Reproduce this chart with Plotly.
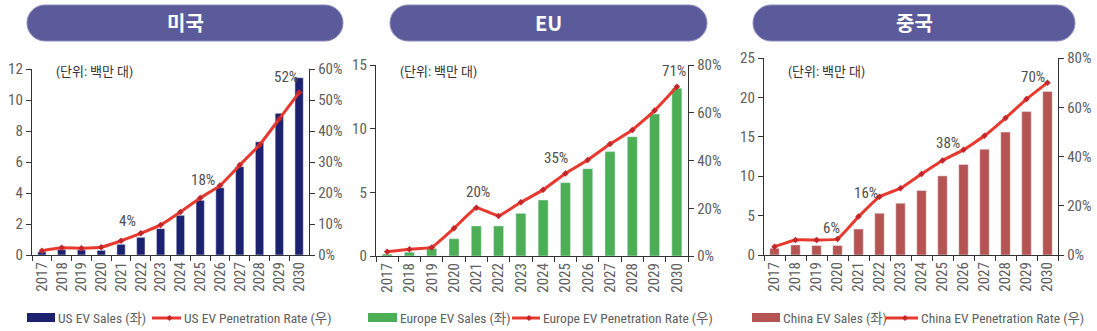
import plotly.graph_objects as go

W, H = 1097, 331

years = ["2017", "2018", "2019", "2020", "2021", "2022", "2023",
         "2024", "2025", "2026", "2027", "2028", "2029", "2030"]

us_sales = [0.2, 0.35, 0.33, 0.3, 0.69, 1.14, 1.7, 2.56, 3.53, 4.34, 5.7, 7.3, 9.14, 11.44]
us_rate = [1.4, 2.3, 2.2, 2.5, 4.6, 7.0, 9.7, 13.9, 18.4, 22.4, 29.0, 35.5, 43.9, 52.4]
eu_sales = [0.15, 0.3, 0.6, 1.36, 2.36, 2.36, 3.35, 4.4, 5.76, 6.86, 8.2, 9.37, 11.15, 13.17]
eu_rate = [1.8, 2.8, 3.6, 11.6, 20.2, 16.8, 22.5, 27.7, 34.6, 40.2, 46.9, 52.8, 60.9, 70.9]
cn_sales = [0.85, 1.27, 1.2, 1.2, 3.3, 5.3, 6.57, 8.18, 10.04, 11.5, 13.43, 15.6, 18.2, 20.76]
cn_rate = [3.4, 6.1, 6.1, 6.5, 15.6, 23.7, 27.1, 32.9, 38.4, 42.7, 48.4, 55.6, 63.3, 70.0]

titles = ["미국", "EU", "중국"]
sales_names = ["US EV Sales (좌)", "Europe EV Sales (좌)", "China EV Sales (좌)"]
rate_names = ["US EV Penetration Rate (우)", "Europe EV Penetration Rate (우)", "China EV Penetration Rate (우)"]
unit_text = "(단위: 백만 대)"
labels = [
    {"2021": "4%", "2025": "18%", "2030": "52%"},
    {"2021": "20%", "2025": "35%", "2030": "71%"},
    {"2020": "6%", "2021": "16%", "2025": "38%", "2030": "70%"},
]
left_ranges = [(12, 2), (15, 5), (25, 5)]
right_ranges = [(60, 10), (80, 20), (80, 20)]

bar_colors = ["#1d2270", "#4caf55", "#b55452"]
line_color = "#e8392e"
marker_color = "#c4262a"
axis_color = "#333333"
text_color = "#606060"
pill_color = "#5b5b9c"

FONT = "Roboto Condensed, Liberation Sans Narrow, Roboto, Noto Sans, Noto Sans CJK KR"

# layout geometry (px)
panels = [
    dict(x0=32, x1=309, yb=255, yt=69, bw=0.42, pill=(27, 343)),
    dict(x0=376, x1=688, yb=256, yt=65, bw=0.45, pill=(390, 707)),
    dict(x0=764, x1=1058, yb=255, yt=58, bw=0.45, pill=(753, 1075)),
]
label_shift = [
    {"2021": (6, 20), "2025": (3, 18), "2030": (-13, 16)},
    {"2021": (2, 16), "2025": (-9, 15), "2030": (-3, 16)},
    {"2020": (-6, 11), "2021": (7, 24), "2025": (5, 17), "2030": (-15, 6)},
]
legend_geo = [
    dict(r0=27, r1=55, t1=56, l0=152, l1=181, t2=182),
    dict(r0=368, r1=397, t1=398, l0=512, l1=540, t2=541),
    dict(r0=752, r1=780, t1=781, l0=886, l1=918, t2=919),
]

def px(x):
    return x / W

def py(y):
    return 1 - y / H

sales_all = [us_sales, eu_sales, cn_sales]
rate_all = [us_rate, eu_rate, cn_rate]

fig = go.Figure()
shapes = []
annotations = []

for i in range(3):
    p = panels[i]
    xa = "x" if i == 0 else f"x{i+1}"
    ya_l = f"y{2*i+1}" if i > 0 else "y"
    ya_r = f"y{2*i+2}"
    fig.add_trace(go.Bar(x=years, y=sales_all[i], marker_color=bar_colors[i],
                         width=p["bw"], xaxis=xa, yaxis=ya_l, showlegend=False))
    fig.add_trace(go.Scatter(x=years, y=rate_all[i], mode="lines+markers",
                             line=dict(color=line_color, width=3, shape="spline", smoothing=0.3),
                             marker=dict(symbol="diamond", size=5, color=marker_color),
                             xaxis=xa, yaxis=ya_r, showlegend=False))

    xdom = [px(p["x0"]), px(p["x1"])]
    ydom = [py(p["yb"]), py(p["yt"])]
    xkey = "xaxis" if i == 0 else f"xaxis{i+1}"
    ylkey = "yaxis" if i == 0 else f"yaxis{2*i+1}"
    yrkey = f"yaxis{2*i+2}"
    fig.layout[xkey] = dict(domain=xdom, anchor=ya_l, type="category",
                            range=[-0.5, 13.5], tickangle=-90, automargin=False,
                            showline=True, linecolor=axis_color, linewidth=1.3,
                            ticks="outside", tickson="boundaries", ticklen=5,
                            tickcolor=axis_color, showgrid=False,
                            tickfont=dict(size=15, color=text_color, family=FONT))
    lmax, ldt = left_ranges[i]
    fig.layout[ylkey] = dict(domain=ydom, anchor=xa, range=[0, lmax], dtick=ldt,
                             automargin=False,
                             showline=True, linecolor=axis_color, linewidth=1.3,
                             ticks="outside", ticklen=5, tickcolor=axis_color,
                             showgrid=False, zeroline=False,
                             tickfont=dict(size=15, color=text_color, family=FONT))
    rmax, rdt = right_ranges[i]
    fig.layout[yrkey] = dict(domain=ydom, anchor=xa, overlaying=ya_l, side="right",
                             range=[0, rmax], dtick=rdt, ticksuffix="%", automargin=False,
                             showline=True, linecolor=axis_color, linewidth=1.3,
                             ticks="outside", ticklen=5, tickcolor=axis_color,
                             showgrid=False, zeroline=False,
                             tickfont=dict(size=15, color=text_color, family=FONT))

    # value labels (anchored on the data point by category index)
    for yr, txt in labels[i].items():
        idx = years.index(yr)
        dx, dy = label_shift[i][yr]
        annotations.append(dict(x=idx, y=rate_all[i][idx], xref=xa, yref=ya_r,
                                text=txt, showarrow=False, xshift=dx, yshift=dy,
                                xanchor="center", yanchor="middle",
                                font=dict(size=15, color="#505050", family=FONT)))
    # unit text
    annotations.append(dict(x=px(p["x0"] + 22), y=py(72), xref="paper", yref="paper",
                            xanchor="left", yanchor="middle", text=unit_text,
                            showarrow=False,
                            font=dict(size=13, color="#333333", family=FONT)))

    # pill header
    a, b = p["pill"]
    t, btm = 5, 41
    r = (btm - t) / 2
    k = 0.5523 * r
    pts = [
        ("M", [(a + r, t)]),
        ("L", [(b - r, t)]),
        ("C", [(b - r + k, t), (b, t + r - k), (b, t + r)]),
        ("C", [(b, t + r + k), (b - r + k, btm), (b - r, btm)]),
        ("L", [(a + r, btm)]),
        ("C", [(a + r - k, btm), (a, t + r + k), (a, t + r)]),
        ("C", [(a, t + r - k), (a + r - k, t), (a + r, t)]),
    ]
    path = ""
    for cmd, plist in pts:
        path += cmd + " " + " ".join(f"{px(x):.5f},{py(y):.5f}" for x, y in plist) + " "
    path += "Z"
    shapes.append(dict(type="path", path=path, xref="paper", yref="paper",
                       fillcolor=pill_color, line=dict(color="#8a8ab8", width=1)))
    annotations.append(dict(x=px((a + b) / 2), y=py(23), xref="paper", yref="paper",
                            text=f"<b>{titles[i]}</b>", showarrow=False,
                            xanchor="center", yanchor="middle",
                            font=dict(size=20, color="white", family="Noto Sans CJK KR")))

    # legend
    g = legend_geo[i]
    shapes.append(dict(type="rect", xref="paper", yref="paper",
                       x0=px(g["r0"]), x1=px(g["r1"]), y0=py(322), y1=py(313),
                       fillcolor=bar_colors[i], line=dict(width=0)))
    annotations.append(dict(x=px(g["t1"]), y=py(318), xref="paper", yref="paper",
                            xanchor="left", yanchor="middle", text=sales_names[i],
                            showarrow=False,
                            font=dict(size=13.5, color=text_color, family=FONT)))
    shapes.append(dict(type="line", xref="paper", yref="paper",
                       x0=px(g["l0"]), x1=px(g["l1"]), y0=py(318), y1=py(318),
                       line=dict(color=line_color, width=3)))
    mx = (g["l0"] + g["l1"]) / 2 + 3
    shapes.append(dict(type="path", xref="paper", yref="paper",
                       path=f"M {px(mx-3):.5f},{py(318):.5f} L {px(mx):.5f},{py(315):.5f} "
                            f"L {px(mx+3):.5f},{py(318):.5f} L {px(mx):.5f},{py(321):.5f} Z",
                       fillcolor=marker_color, line=dict(width=0)))
    annotations.append(dict(x=px(g["t2"]), y=py(318), xref="paper", yref="paper",
                            xanchor="left", yanchor="middle", text=rate_names[i],
                            showarrow=False,
                            font=dict(size=13.5, color=text_color, family=FONT)))

fig.update_layout(width=W, height=H, margin=dict(l=0, r=0, t=0, b=0, autoexpand=False),
                  paper_bgcolor="white", plot_bgcolor="white",
                  shapes=shapes, annotations=annotations, bargap=0.5,
                  font=dict(family=FONT, color=text_color))

fig.write_html("out.html")
